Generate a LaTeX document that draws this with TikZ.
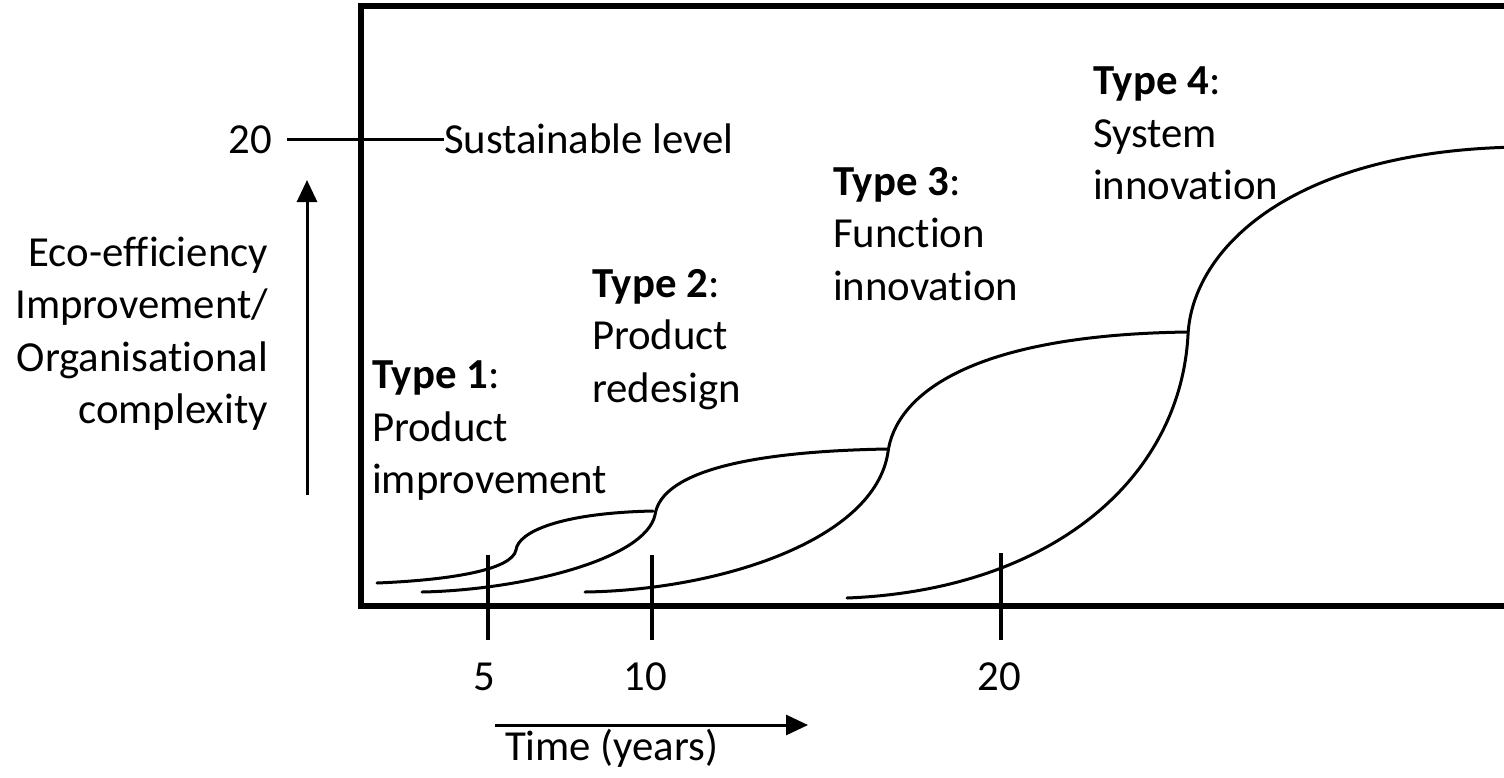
\documentclass[tikz,border=0pt]{standalone}
\usepackage{fontspec}
\setmainfont{Carlito}[RawFeature={-liga;-clig}]
\usetikzlibrary{arrows.meta}
\begin{document}
\begin{tikzpicture}[x=1pt,y=-1pt,
  every node/.style={inner sep=0pt,outer sep=0pt,font=\fontsize{42.8}{52.5}\selectfont},
  frame/.style={line width=6pt},
  tick/.style={line width=3.5pt},
  curve/.style={line width=3pt,line cap=round},
  axisarrow/.style={line width=3pt,-{Triangle[length=22pt,width=20pt]}},
  typelabel/.style={anchor=north west,align=left}]
\useasboundingbox (0,0) rectangle (1504,777);
% frame (open to the right)
\draw[frame] (1530,6) -- (361,6) -- (361,606) -- (1530,606);
% ticks
\coordinate (k5a) at (488,555); \coordinate (k5b) at (488,640);
\coordinate (k10a) at (652,555); \coordinate (k10b) at (652,640);
\coordinate (k20a) at (1001,553); \coordinate (k20b) at (1001,640);
\draw[tick] (k5a) -- (k5b);
\draw[tick] (k10a) -- (k10b);
\draw[tick] (k20a) -- (k20b);
\node[anchor=base] (x5) at (484,690) {5};
\node[anchor=base] (x10) at (645,690) {10};
\node[anchor=base] (x20) at (999,690) {20};
% sustainable level
\node[anchor=base east] (y20) at (272,153) {20};
\node[anchor=base west] (sus) at (444,153) {Sustainable level};
\coordinate (s0) at ([xshift=15pt]y20.east);
\draw[line width=2.5pt] (s0) -- (s0 -| sus.west);
% y axis
\coordinate (ya) at (307,495); \coordinate (yb) at (307,180);
\draw[axisarrow] (ya) -- (yb);
\node[anchor=north east,align=right] (ylab) at (268,237) {Eco-efficiency\\Improvement/\\Organisational\\complexity};
% time axis
\coordinate (ta) at (495,725); \coordinate (tb) at (808,725);
\draw[axisarrow] (ta) -- (tb);
\node[anchor=base west] (tlab) at (505,760) {Time (years)};
% type labels
\node[typelabel] (t1) at (372,361) {\textbf{Type 1}:\\Product\\improvement};
\node[typelabel] (t2) at (592,269) {\textbf{Type 2}:\\Product\\redesign};
\node[typelabel] (t3) at (833,167) {\textbf{Type 3}:\\Function\\innovation};
\node[typelabel] (t4) at (1093,67) {\textbf{Type 4}:\\System\\innovation};
% curves
\draw[curve] (377,583) .. controls (450,580) and (512,570) .. (516,550)
  .. controls (518,532) and (560,513) .. (653,511);
\draw[curve] (422,592) .. controls (520,590) and (645,560) .. (655,515)
  .. controls (660,480) and (720,452) .. (887,449);
\draw[curve] (585,592) .. controls (720,590) and (875,540) .. (888,452)
  .. controls (895,400) and (960,335) .. (1188,332);
\draw[curve] (847,598) .. controls (1050,590) and (1180,480) .. (1188,335)
  .. controls (1192,250) and (1290,150) .. (1520,147);
\end{tikzpicture}
\end{document}
